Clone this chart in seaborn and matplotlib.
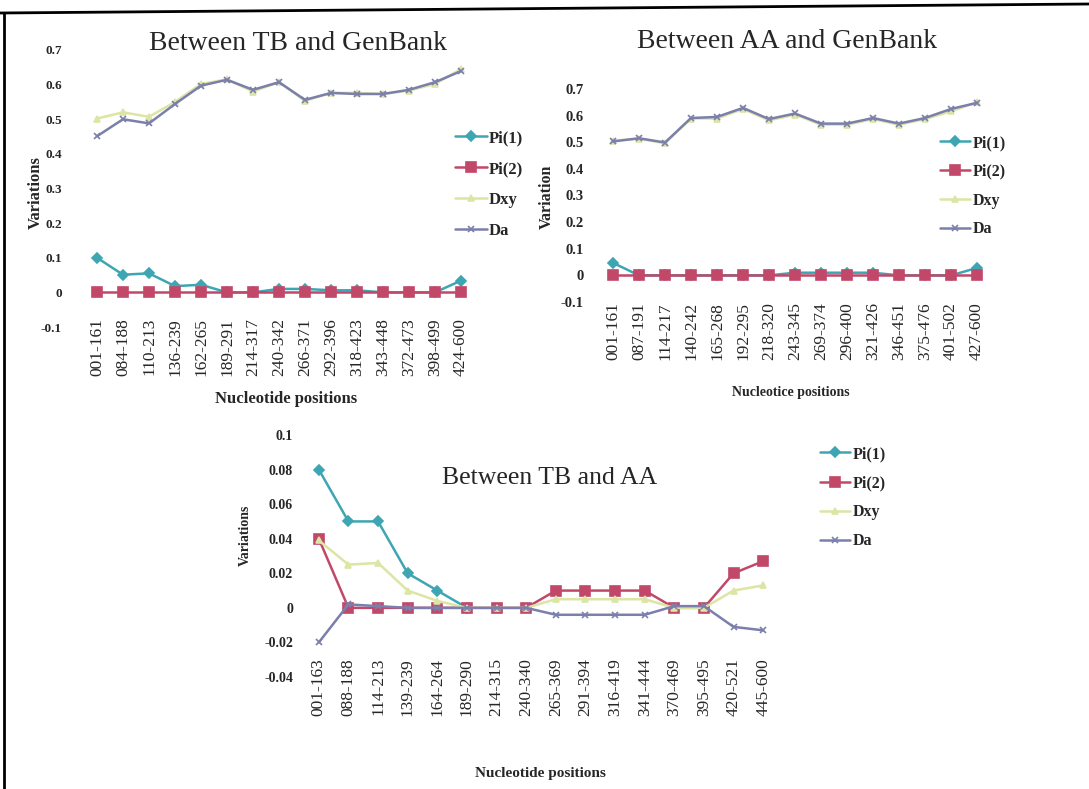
import numpy as np
import pandas as pd
import matplotlib
matplotlib.use("Agg")
import matplotlib.pyplot as plt
import seaborn as sns
from matplotlib.lines import Line2D

# ---------------- data ----------------
series_names = ["Pi(1)", "Pi(2)", "Dxy", "Da"]

tb_gb_labels = ["001-161", "084-188", "110-213", "136-239", "162-265", "189-291",
                "214-317", "240-342", "266-371", "292-396", "318-423", "343-448",
                "372-473", "398-499", "424-600"]
tb_gb_pi1 = [0.100, 0.051, 0.055, 0.018, 0.022, 0.0, 0.0, 0.010, 0.010, 0.006,
             0.006, 0.0, 0.0, 0.0, 0.034]
tb_gb_pi2 = [0.0, 0.0, 0.0, 0.0, 0.0, 0.0, 0.0, 0.0, 0.0, 0.0, 0.0, 0.0, 0.0, 0.0, 0.0]
tb_gb_dxy = [0.502, 0.520, 0.507, 0.550, 0.602, 0.615, 0.580, 0.607, 0.553, 0.576,
             0.576, 0.573, 0.583, 0.602, 0.645]
tb_gb_da = [0.451, 0.500, 0.488, 0.544, 0.597, 0.614, 0.585, 0.607, 0.556, 0.576,
            0.573, 0.573, 0.585, 0.607, 0.639]

aa_gb_labels = ["001-161", "087-191", "114-217", "140-242", "165-268", "192-295",
                "218-320", "243-345", "269-374", "296-400", "321-426", "346-451",
                "375-476", "401-502", "427-600"]
aa_gb_pi1 = [0.047, 0.0, 0.0, 0.0, 0.0, 0.0, 0.0, 0.010, 0.010, 0.010, 0.010,
             0.0, 0.0, 0.0, 0.028]
aa_gb_pi2 = [0.0, 0.0, 0.0, 0.0, 0.0, 0.0, 0.0, 0.0, 0.0, 0.0, 0.0, 0.0, 0.0, 0.0, 0.0]
aa_gb_dxy = [0.506, 0.513, 0.496, 0.589, 0.589, 0.625, 0.582, 0.604, 0.566, 0.566,
             0.587, 0.566, 0.587, 0.616, 0.650]
aa_gb_da = [0.503, 0.515, 0.499, 0.591, 0.595, 0.629, 0.587, 0.608, 0.570, 0.570,
            0.591, 0.570, 0.591, 0.625, 0.648]

tb_aa_labels = ["001-163", "088-188", "114-213", "139-239", "164-264", "189-290",
                "214-315", "240-340", "265-369", "291-394", "316-419", "341-444",
                "370-469", "395-495", "420-521", "445-600"]
tb_aa_pi1 = [0.080, 0.050, 0.050, 0.020, 0.010, 0.0, None, None, None, None, None,
             None, None, None, None, None]
tb_aa_pi2 = [0.040, 0.0, 0.0, 0.0, 0.0, 0.0, 0.0, 0.0, 0.010, 0.010, 0.010, 0.010,
             0.0, 0.0, 0.020, 0.027]
tb_aa_dxy = [0.039, 0.025, 0.026, 0.010, 0.004, 0.0, 0.0, 0.0, 0.005, 0.005, 0.005,
             0.005, 0.0, 0.0, 0.010, 0.013]
tb_aa_da = [-0.020, 0.002, 0.001, 0.0, 0.0, 0.0, 0.0, 0.0, -0.004, -0.004, -0.004,
            -0.004, 0.001, 0.001, -0.011, -0.013]

tl_yticks = [-0.1, 0.0, 0.1, 0.2, 0.3, 0.4, 0.5, 0.6, 0.7]
bt_yticks = [-0.04, -0.02, 0.0, 0.02, 0.04, 0.06, 0.08, 0.1]

# ---------------- style ----------------
colors = {"Pi(1)": "#3ea6b2", "Pi(2)": "#c2486a", "Dxy": "#dce5a4", "Da": "#7b7fab"}
markers = {"Pi(1)": "D", "Pi(2)": "s", "Dxy": "^", "Da": "x"}
msizes = {"Pi(1)": 5, "Pi(2)": 7, "Dxy": 5, "Da": 4}

sns.set_theme(style="white")
plt.rcParams["font.family"] = ["Liberation Serif", "DejaVu Serif"]

W, H = 1089, 789
fig = plt.figure(figsize=(W / 100, H / 100), dpi=100)
fig.patch.set_facecolor("white")


def px_axes(left, top, right, bottom):
    return fig.add_axes([left / W, 1 - bottom / H, (right - left) / W, (bottom - top) / H])


def draw_panel(ax, labels, values, yticks, ylim, title, title_xy, title_fs,
               ylabel, ylabel_xy, ylabel_fs, xlabel, xlabel_xy, xlabel_fs,
               ytick_fs, ytick_pad, xtick_pad, leg_anchor, leg_fs, leg_spacing):
    n = len(labels)
    pos = np.arange(n)
    for name in series_names:
        vals = [np.nan if v is None else v for v in values[name]]
        df = pd.DataFrame({"pos": pos, "value": vals}).dropna()
        sns.lineplot(data=df, x="pos", y="value", ax=ax, color=colors[name],
                     marker=markers[name], markersize=msizes[name],
                     markeredgecolor=colors[name], markeredgewidth=1.2,
                     linewidth=1.8, label=name, sort=False, legend=False)
    ax.set_xlim(-0.5, n - 0.5)
    ax.set_ylim(*ylim)
    ax.set_xticks(pos)
    ax.set_xticklabels(labels, rotation=90, fontsize=12.5, va="top")
    ax.set_yticks(yticks)
    ax.set_yticklabels(["{:g}".format(v) for v in yticks], fontsize=ytick_fs,
                       fontweight="bold")
    ax.tick_params(axis="x", length=0, pad=xtick_pad)
    ax.tick_params(axis="y", length=0, pad=ytick_pad)
    for s in ax.spines.values():
        s.set_visible(False)
    ax.set_facecolor("none")
    ax.grid(False)
    ax.set_title(title, fontsize=title_fs, x=title_xy[0], y=title_xy[1],
                 va="center", pad=0)
    ax.set_ylabel(ylabel, fontsize=ylabel_fs, fontweight="bold")
    ax.yaxis.set_label_coords(*ylabel_xy)
    ax.set_xlabel(xlabel, fontsize=xlabel_fs, fontweight="bold")
    ax.xaxis.set_label_coords(*xlabel_xy)
    handles, labs = ax.get_legend_handles_labels()
    ax.legend(handles, labs, loc="upper left",
              bbox_to_anchor=(leg_anchor[0] / W, 1 - leg_anchor[1] / H),
              bbox_transform=fig.transFigure, frameon=False, borderpad=0,
              borderaxespad=0, handlelength=1.9, handletextpad=0.12,
              labelspacing=leg_spacing, prop={"size": leg_fs, "weight": "bold"})


# top-left panel
ax1 = px_axes(84, 50, 474, 327)
draw_panel(ax1, tb_gb_labels,
           {"Pi(1)": tb_gb_pi1, "Pi(2)": tb_gb_pi2, "Dxy": tb_gb_dxy, "Da": tb_gb_da},
           tl_yticks, (-0.1, 0.7), "Between TB and GenBank", (0.549, 1.025), 20,
           "Variations", (-0.102, 0.487), 12, "Nucleotide positions", (0.518, -0.23), 12,
           9.5, 16, -6.5, (455, 130), 12, 0.9)

# top-right panel
ax2 = px_axes(600, 89, 990, 302)
draw_panel(ax2, aa_gb_labels,
           {"Pi(1)": aa_gb_pi1, "Pi(2)": aa_gb_pi2, "Dxy": aa_gb_dxy, "Da": aa_gb_da},
           tl_yticks, (-0.1, 0.7), "Between AA and GenBank", (0.48, 1.221), 20,
           "Variation", (-0.117, 0.492), 11.5, "Nucleotice positions", (0.488, -0.395), 10,
           10.5, 12, 0, (940, 135), 11.5, 0.8)

# bottom panel
ax3 = px_axes(304, 435, 778, 677)
draw_panel(ax3, tb_aa_labels,
           {"Pi(1)": tb_aa_pi1, "Pi(2)": tb_aa_pi2, "Dxy": tb_aa_dxy, "Da": tb_aa_da},
           bt_yticks, (-0.04, 0.1), "Between TB and AA", (0.519, 0.822), 18.5,
           "Variations", (-0.111, 0.587), 10, "Nucleotide positions", (0.498, -0.37), 11,
           10, 8, -13.7, (820, 446), 11.5, 0.82)

# figure frame (top and left edges of the scanned box)
fig.add_artist(Line2D([0, 1], [1 - 13 / H, 1 - 4 / H], transform=fig.transFigure,
                      color="black", linewidth=2))
fig.add_artist(Line2D([4 / W, 4 / W], [1 - 13 / H, 0], transform=fig.transFigure,
                      color="black", linewidth=2))

fig.savefig("out.png", dpi=100)
